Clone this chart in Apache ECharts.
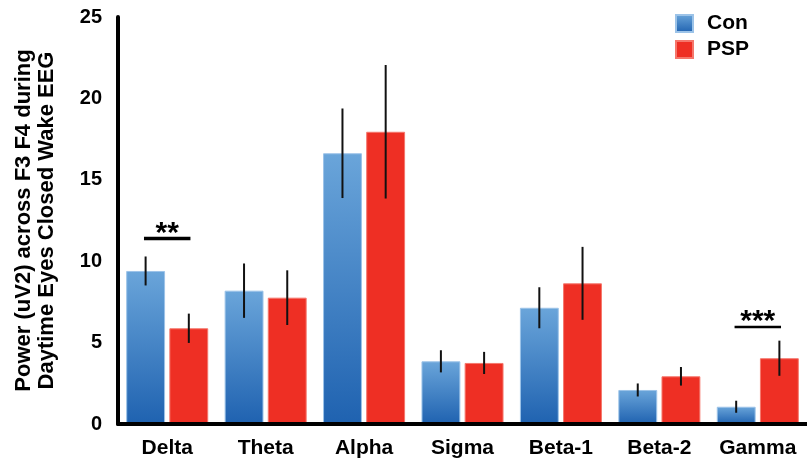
<!DOCTYPE html>
<html>
<head>
<meta charset="utf-8">
<script src="https://cdn.jsdelivr.net/npm/echarts@6/dist/echarts.min.js"></script>
<style>
html,body{margin:0;padding:0;background:#fff;}
#chart{width:807px;height:464px;}
</style>
</head>
<body>
<div id="chart"></div>
<script>
// ---- data ----
var categories = ['Delta', 'Theta', 'Alpha', 'Sigma', 'Beta-1', 'Beta-2', 'Gamma'];
var conValues = [9.40, 8.19, 16.63, 3.85, 7.14, 2.09, 1.06];
var conErrors = [0.89, 1.67, 2.75, 0.68, 1.26, 0.40, 0.37];
var pspValues = [5.88, 7.76, 17.95, 3.75, 8.64, 2.93, 4.04];
var pspErrors = [0.90, 1.68, 4.10, 0.68, 2.24, 0.57, 1.08];
var sigCategories = ['Delta', 'Gamma'];
var sigLineValues = [11.40, 5.96];
var sigStars = ['**', '***'];
var yTicks = [0, 5, 10, 15, 20, 25];

var FONT = 'Liberation Sans, Arial, Helvetica, sans-serif';
var chart = echarts.init(document.getElementById('chart'));

var BAR_OFFSET = 0.2195;
function errRender(sign) {
  return function (params, api) {
    var idx = api.value(0), v = api.value(1), e = api.value(2);
    var bw = api.size([1, 0])[0];
    var x = api.coord([idx, 0])[0] + sign * bw * BAR_OFFSET;
    var y1 = api.coord([idx, v + e])[1];
    var y2 = api.coord([idx, v - e])[1];
    return {
      type: 'line',
      shape: { x1: x, y1: y1, x2: x, y2: y2 },
      style: { stroke: '#111', lineWidth: 2 }
    };
  };
}

var sigWidths = [3.5, 2.5];
function sigRender(params, api) {
  var idx = api.value(0), v = api.value(1);
  var bw = api.size([1, 0])[0];
  var p = api.coord([idx, v]);
  var half = bw * 0.236;
  return {
    type: 'group',
    children: [
      { type: 'line', shape: { x1: p[0] - half, y1: p[1], x2: p[0] + half, y2: p[1] },
        style: { stroke: '#000', lineWidth: sigWidths[params.dataIndex] } },
      { type: 'text', x: p[0], y: p[1] - 5,
        style: { text: sigStars[params.dataIndex], fill: '#000', align: 'center', verticalAlign: 'middle',
                 font: 'bold 30px ' + FONT } }
    ]
  };
}

var conGrad = new echarts.graphic.LinearGradient(0, 0, 0, 1, [
  { offset: 0, color: '#6aa5da' },
  { offset: 1, color: '#1f62b0' }
]);

chart.setOption({
  animation: false,
  backgroundColor: '#fff',
  textStyle: { fontFamily: FONT },
  grid: { left: 118, top: 17, width: 690, height: 407, containLabel: false },
  legend: {
    orient: 'vertical',
    left: 675, top: 13,
    itemWidth: 17, itemHeight: 17, itemGap: 5,
    padding: 0,
    icon: 'rect',
    data: ['Con', 'PSP'],
    textStyle: { fontSize: 21, fontWeight: 'bold', color: '#000', fontFamily: FONT, padding: [0, 0, 0, 9] }
  },
  xAxis: {
    type: 'category',
    data: categories,
    z: 10,
    axisLine: { lineStyle: { color: '#000', width: 4 } },
    axisTick: { show: false },
    axisLabel: { interval: 0, color: '#000', fontSize: 21, fontWeight: 'bold', margin: 14, fontFamily: FONT }
  },
  yAxis: {
    type: 'value',
    min: yTicks[0], max: yTicks[yTicks.length - 1], interval: yTicks[1] - yTicks[0],
    z: 10,
    name: 'Power (uV2) across F3 F4 during\nDaytime Eyes Closed Wake EEG',
    nameLocation: 'middle',
    nameGap: 60,
    nameRotate: 90,
    nameTextStyle: { color: '#000', fontSize: 22, fontWeight: 'bold', lineHeight: 23, fontFamily: FONT },
    axisLine: { show: true, lineStyle: { color: '#000', width: 4 } },
    axisTick: { show: false },
    splitLine: { show: false },
    axisLabel: { color: '#000', fontSize: 20, fontWeight: 'bold', margin: 16, fontFamily: FONT }
  },
  series: [
    {
      name: 'Con', type: 'bar', data: conValues,
      barWidth: '39.5%', barGap: '11%',
      itemStyle: { color: conGrad, borderColor: '#9cc3e8', borderWidth: 1 }
    },
    {
      name: 'PSP', type: 'bar', data: pspValues,
      barWidth: '39.5%', barGap: '11%',
      itemStyle: { color: '#ee2f24', borderColor: '#f5776c', borderWidth: 1 }
    },
    {
      type: 'custom', name: 'conErr', renderItem: errRender(-1), z: 5,
      data: categories.map(function (c, i) { return [i, conValues[i], conErrors[i]]; })
    },
    {
      type: 'custom', name: 'pspErr', renderItem: errRender(1), z: 5,
      data: categories.map(function (c, i) { return [i, pspValues[i], pspErrors[i]]; })
    },
    {
      type: 'custom', name: 'sig', renderItem: sigRender, z: 6,
      data: sigCategories.map(function (c, i) { return [categories.indexOf(c), sigLineValues[i]]; })
    }
  ]
});
</script>
</body>
</html>
